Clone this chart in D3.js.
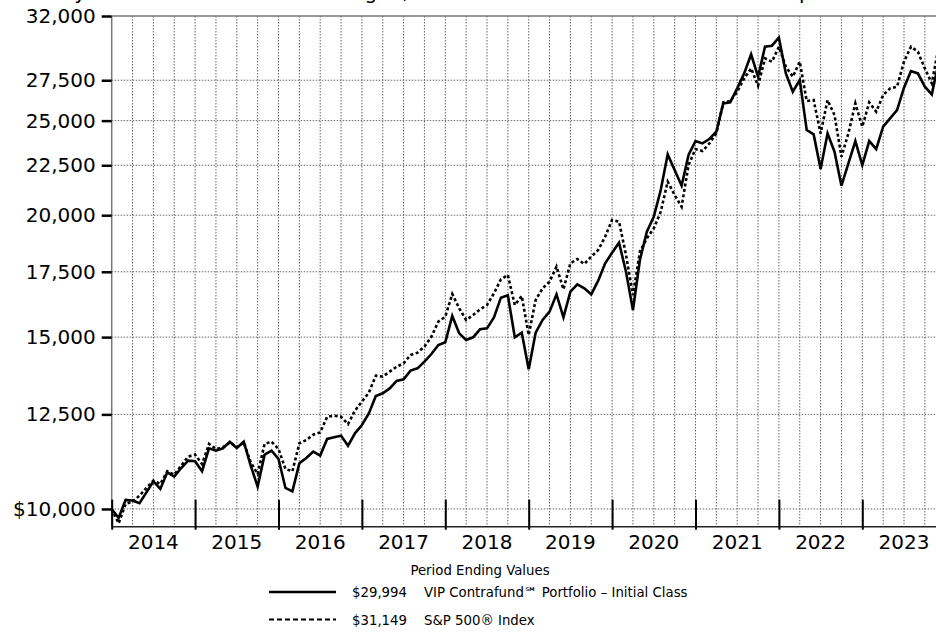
<!DOCTYPE html>
<html>
<head>
<meta charset="utf-8">
<script src="https://cdn.jsdelivr.net/npm/d3@7"></script>
<style>
  html, body { margin: 0; padding: 0; background: #fff; overflow: hidden; }
  svg { display: block; font-family: 'DejaVu Sans', Verdana, sans-serif; }
</style>
</head>
<body>
<svg id="chart" width="936" height="633"></svg>
<script>
  // month index 0 = Dec 2013 ... 120 = Dec 2023
  var years = [2014, 2015, 2016, 2017, 2018, 2019, 2020, 2021, 2022, 2023];
  var yTicks = [10000, 12500, 15000, 17500, 20000, 22500, 25000, 27500, 32000];

  var fund = [
    10000, 9790, 10215, 10200, 10135, 10400, 10675, 10483, 10903, 10793, 11015, 11208,
    11190, 10929, 11539, 11476, 11539, 11720, 11548, 11720, 11075, 10541, 11368, 11476,
    11253, 10508, 10425, 11137, 11280, 11449, 11342, 11796, 11842, 11889, 11609, 11954,
    12190, 12530, 13055, 13140, 13290, 13525, 13580, 13860, 13935, 14156, 14414, 14724,
    14817, 15767, 15135, 14899, 14993, 15278, 15314, 15716, 16463, 16554, 14993, 15159,
    13903, 15159, 15619, 15928, 16593, 15716, 16697, 16989, 16830, 16593, 17136, 17852,
    18307, 18745, 17505, 15990, 17993, 19237, 19930, 21224, 23087, 22249, 21443, 23050,
    23825, 23694, 23939, 24356, 26039, 26100, 26977, 27947, 29230, 27729, 29763, 29833,
    30402, 27947, 26765, 27512, 24451, 24201, 22302, 24259, 23233, 21443, 22601, 23825,
    22513, 23825, 23380, 24644, 25133, 25633, 27018, 28103, 27947, 27082, 26597, 28700,
    29994
  ];

  var sp500 = [
    10000, 9668, 10119, 10175, 10320, 10508, 10691, 10608, 10929, 10843, 11075, 11316,
    11368, 11120, 11658, 11520, 11565, 11700, 11565, 11700, 11166, 10860, 11658, 11720,
    11520, 10990, 10929, 11676, 11766, 11915, 11980, 12430, 12460, 12430, 12216, 12610,
    12882, 13158, 13696, 13664, 13826, 13990, 14100, 14380, 14460, 14667, 15016, 15557,
    15741, 16607, 16054, 15617, 15804, 16016, 16180, 16633, 17190, 17367, 16180, 16528,
    15075, 16373, 16830, 17097, 17712, 16790, 17852, 18036, 17824, 18135, 18422, 19010,
    19774, 19696, 18207, 16567, 18350, 18936, 19390, 20167, 21646, 20975, 20406, 22513,
    23380, 23268, 23694, 24259, 26100, 26183, 26765, 27619, 28279, 27147, 28954, 28729,
    29763, 28391, 27729, 28729, 26183, 26243, 24259, 26243, 25332, 22961, 24259, 26039,
    24644, 26100, 25531, 26555, 26977, 27082, 28729, 29763, 29414, 28279, 27297, 29780,
    31149
  ];

  var legendValues = ['$29,994', '$31,149'];
  var legendNames = ['VIP Contrafund\u2120 Portfolio \u2013 Initial Class', 'S&P 500\u00AE Index'];
  var titleText = 'Fully invested with the fees charged, the overall account return is then compared with the S&P 500 Index';

  (function () {
    var svg = d3.select('#chart'),
      pLeft = 111.7,
      pTop = 16,
      pBottom = 526.7,
      pRight = 945.7;

    var x = d3.scaleLinear().domain([0, 120]).range([pLeft, pRight]);
    var y = d3.scaleLog().domain([9590, 32000]).range([pBottom, pTop]);

    // title line, mostly above the visible area (only descenders show)
    svg.append('text')
      .attr('x', 40)
      .attr('y', -1)
      .attr('font-size', 20)
      .attr('fill', '#000')
      .text(titleText);

    // quarterly vertical grid
    svg.append('g').selectAll('line')
      .data(d3.range(3, 121, 3))
      .enter().append('line')
      .attr('x1', function (d) { return x(d); })
      .attr('x2', function (d) { return x(d); })
      .attr('y1', pTop)
      .attr('y2', pBottom)
      .attr('stroke', '#666')
      .attr('stroke-width', 1)
      .attr('stroke-dasharray', '1.5,1.5');

    // horizontal grid
    svg.append('g').selectAll('line')
      .data(yTicks.slice(0, -1))
      .enter().append('line')
      .attr('x1', pLeft)
      .attr('x2', pRight)
      .attr('y1', function (d) { return y(d); })
      .attr('y2', function (d) { return y(d); })
      .attr('stroke', '#666')
      .attr('stroke-width', 1)
      .attr('stroke-dasharray', '1.5,1.5');

    // frame: top, left and bottom
    svg.append('line')
      .attr('x1', pLeft).attr('x2', pRight)
      .attr('y1', pTop).attr('y2', pTop)
      .attr('stroke', '#777').attr('stroke-width', 1.5);
    svg.append('line')
      .attr('x1', pLeft).attr('x2', pLeft)
      .attr('y1', pTop).attr('y2', pBottom)
      .attr('stroke', '#777').attr('stroke-width', 1.5);
    svg.append('line')
      .attr('x1', pLeft).attr('x2', pRight)
      .attr('y1', pBottom).attr('y2', pBottom)
      .attr('stroke', '#222').attr('stroke-width', 1.5);

    // y axis
    var yAxis = d3.axisLeft(y)
      .tickValues(yTicks)
      .tickSize(10)
      .tickPadding(6)
      .tickFormat(function (d) {
        return (d === 10000 ? '$' : '') + d3.format(',')(d);
      });
    var gy = svg.append('g')
      .attr('transform', 'translate(' + pLeft + ',0)')
      .call(yAxis);
    gy.select('.domain').remove();
    gy.selectAll('.tick line').attr('stroke', '#000').attr('stroke-width', 2.5);
    gy.selectAll('.tick text')
      .attr('font-size', 20)
      .attr('font-family', "'DejaVu Sans', Verdana, sans-serif")
      .attr('fill', '#000');

    // x axis: year boundary ticks and centred year labels
    var xAxis = d3.axisBottom(x)
      .tickValues(d3.range(0, 121, 12))
      .tickSize(3)
      .tickFormat('');
    var gx = svg.append('g')
      .attr('transform', 'translate(0,' + pBottom + ')')
      .call(xAxis);
    gx.select('.domain').remove();
    gx.selectAll('.tick line')
      .attr('y1', -27)
      .attr('y2', 3)
      .attr('stroke', '#000')
      .attr('stroke-width', 2);

    svg.append('g').selectAll('text')
      .data(years)
      .enter().append('text')
      .attr('x', function (d, i) { return x(i * 12 + 6); })
      .attr('y', pBottom + 22)
      .attr('text-anchor', 'middle')
      .attr('font-size', 20)
      .attr('fill', '#000')
      .text(function (d) { return d; });

    // series lines
    var line = d3.line()
      .x(function (d, i) { return x(i); })
      .y(function (d) { return y(d); });

    svg.append('path')
      .datum(sp500)
      .attr('d', line)
      .attr('fill', 'none')
      .attr('stroke', '#000')
      .attr('stroke-width', 2.6)
      .attr('stroke-dasharray', '3,2.5');

    svg.append('path')
      .datum(fund)
      .attr('d', line)
      .attr('fill', 'none')
      .attr('stroke', '#000')
      .attr('stroke-width', 2.6);

    // legend
    svg.append('text')
      .attr('x', 480)
      .attr('y', 575)
      .attr('text-anchor', 'middle')
      .attr('font-size', 13.3)
      .attr('fill', '#000')
      .text('Period Ending Values');

    var lg = svg.append('g').selectAll('g')
      .data(legendValues)
      .enter().append('g')
      .attr('transform', function (d, i) { return 'translate(0,' + (592 + i * 27.5) + ')'; });

    lg.append('line')
      .attr('x1', 269)
      .attr('x2', 336)
      .attr('stroke', '#000')
      .attr('stroke-width', function (d, i) { return i ? 2 : 2.6; })
      .attr('stroke-dasharray', function (d, i) { return i ? '5,3' : null; });

    lg.append('text')
      .attr('x', 352)
      .attr('y', 5)
      .attr('font-size', 13.3)
      .attr('fill', '#000')
      .text(function (d) { return d; });

    lg.append('text')
      .attr('x', 424)
      .attr('y', 5)
      .attr('font-size', 13.3)
      .attr('fill', '#000')
      .text(function (d, i) { return legendNames[i]; });
  })();
</script>
</body>
</html>
